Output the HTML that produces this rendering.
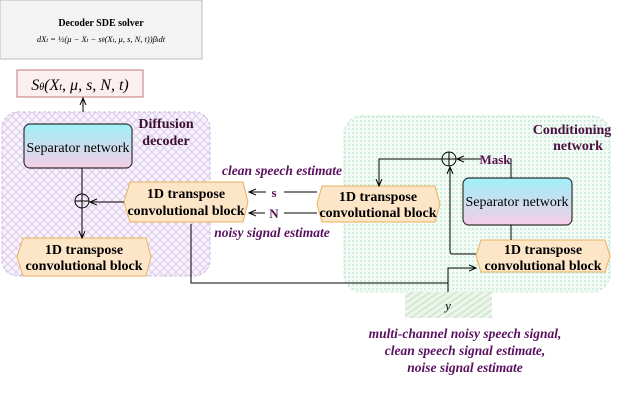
<!DOCTYPE html>
<html><head><style>body{margin:0;background:#fff}svg{display:block}</style></head><body>
<svg width="618" height="406" viewBox="0 0 618 406" xmlns="http://www.w3.org/2000/svg" font-family="Liberation Serif, serif">
<defs>
<pattern id="hatch" width="8" height="8" patternUnits="userSpaceOnUse">
<rect width="8" height="8" fill="#f8f2fb"/>
<path d="M0,0L8,8M8,0L0,8" stroke="#d8c4ea" stroke-width="0.8"/>
</pattern>
<pattern id="dots" width="4" height="4" patternUnits="userSpaceOnUse">
<rect width="4" height="4" fill="#f4fbf6"/>
<rect width="2" height="2" fill="#cfeedd"/>
</pattern>
<pattern id="ydiag" width="5" height="5" patternUnits="userSpaceOnUse" patternTransform="rotate(-35)">
<rect width="5" height="5" fill="#eef6ee"/><rect width="5" height="2" fill="#d4e8d2"/>
</pattern>
<linearGradient id="sep" x1="0" y1="0" x2="0" y2="1"><stop offset="0" stop-color="#9ef0f8"/><stop offset="1" stop-color="#f6cde6"/></linearGradient>
<marker id="ar" markerWidth="8" markerHeight="8" refX="7" refY="4" orient="auto" markerUnits="userSpaceOnUse"><path d="M0,1L7,4L0,7" fill="none" stroke="#000" stroke-width="1"/></marker>
</defs>
<rect x="0" y="0" width="202" height="59" fill="#f3f3f3" stroke="#bbb"/>
<text x="101" y="26" text-anchor="middle" font-size="10" font-weight="bold">Decoder SDE solver</text>
<text x="101" y="42" text-anchor="middle" font-size="8.5" font-style="italic">dX<tspan font-size="6">t</tspan> = ½(μ − X<tspan font-size="6">t</tspan> − s<tspan font-size="6">θ</tspan>(X<tspan font-size="6">t</tspan>, μ, s, N, t))β<tspan font-size="6">t</tspan>dt</text>
<rect x="17" y="70" width="126" height="27" fill="#fbeff0" stroke="#c67a7a"/>
<text x="80" y="90" text-anchor="middle" font-size="16" font-style="italic">S<tspan font-size="10">θ</tspan>(X<tspan font-size="10">t</tspan>, μ, s, N, t)</text>
<rect x="2" y="112" width="208" height="164" rx="16" fill="url(#hatch)" stroke="#c9b8dc" stroke-dasharray="3,2"/>
<rect x="344" y="116" width="266" height="176" rx="18" fill="url(#dots)" stroke="#c7e6cf" stroke-dasharray="3,2"/>
<line x1="83" y1="112" x2="83" y2="98" stroke="#000" marker-end="url(#ar)"/>
<text x="166" y="128" text-anchor="middle" font-size="14" font-weight="bold" fill="#3b1030">Diffusion</text>
<text x="166" y="145" text-anchor="middle" font-size="14" font-weight="bold" fill="#3b1030">decoder</text>
<text x="572" y="134" text-anchor="middle" font-size="14" font-weight="bold" fill="#4a1040">Conditioning</text>
<text x="578" y="150" text-anchor="middle" font-size="14" font-weight="bold" fill="#4a1040">network</text>
<rect x="24" y="124" width="108" height="44" rx="6" fill="url(#sep)" stroke="#333" stroke-width="1.2"/>
<text x="78" y="152" text-anchor="middle" font-size="14">Separator network</text>
<rect x="463" y="178" width="109" height="47" rx="6" fill="url(#sep)" stroke="#333" stroke-width="1.2"/>
<text x="517" y="206" text-anchor="middle" font-size="14">Separator network</text>
<g fill="#fde5c8" stroke="#e8b260" stroke-width="1">
<polygon points="130,182 243,182 248,202 243,222 130,222 124,202"/>
<polygon points="23,238 146,238 151,257 146,276 23,276 17,257"/>
<polygon points="322,186 435,186 440,204 435,222 322,222 317,204"/>
<polygon points="481,240 605,240 610,256 605,272 481,272 476,256"/>
</g>
<g font-size="14" font-weight="bold" text-anchor="middle">
<text x="186" y="198">1D transpose</text><text x="186" y="215">convolutional block</text>
<text x="84" y="254">1D transpose</text><text x="84" y="270">convolutional block</text>
<text x="378" y="201">1D transpose</text><text x="378" y="217">convolutional block</text>
<text x="543" y="254">1D transpose</text><text x="543" y="270">convolutional block</text>
</g>
<g fill="none" stroke="#000" stroke-width="1">
<circle cx="82" cy="201" r="7"/><path d="M75,201H89M82,194V208"/>
<circle cx="449" cy="159" r="7"/><path d="M442,159H456M449,152V166"/>
<line x1="82" y1="168" x2="82" y2="194"/>
<line x1="82" y1="208" x2="82" y2="238" marker-end="url(#ar)"/>
<line x1="124" y1="202" x2="90" y2="202" marker-end="url(#ar)"/>
<path d="M317,192H284" /><line x1="266" y1="192" x2="249" y2="192" marker-end="url(#ar)"/>
<path d="M317,213H284" /><line x1="265" y1="213" x2="249" y2="213" marker-end="url(#ar)"/>
<path d="M442,159H379V186" marker-end="url(#ar)"/>
<path d="M511,178V159H510"/><line x1="481" y1="159" x2="457" y2="159" marker-end="url(#ar)"/>
<path d="M511,225V240"/>
<path d="M476,254H452Q450,254 450,250V167" marker-end="url(#ar)"/>
<path d="M191,224V283H448"/>
<path d="M448,292V268H476" marker-end="url(#ar)"/>
</g>
<text x="274" y="197" text-anchor="middle" font-size="13" font-weight="bold" fill="#5a1050">s</text>
<text x="274" y="218" text-anchor="middle" font-size="13" font-weight="bold" fill="#5a1050">N</text>
<text x="495" y="164" text-anchor="middle" font-size="13" font-weight="bold" fill="#5a1050">Mask</text>
<g font-size="13.5" font-weight="bold" font-style="italic" fill="#5a1060" text-anchor="middle">
<text x="282" y="175">clean speech estimate</text>
<text x="272" y="237">noisy signal estimate</text>
<text x="465" y="338">multi-channel noisy speech signal,</text>
<text x="465" y="355">clean speech signal estimate,</text>
<text x="465" y="372">noise signal estimate</text>
</g>
<rect x="405" y="292" width="87" height="26" fill="url(#ydiag)"/>
<text x="448" y="310" text-anchor="middle" font-size="13" font-style="italic">y</text>
</svg>
</body></html>
